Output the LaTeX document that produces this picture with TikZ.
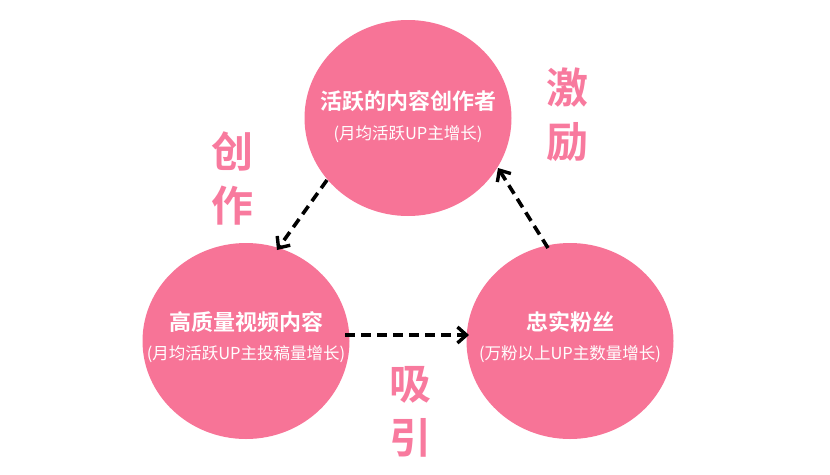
\documentclass[tikz,border=0pt]{standalone}
\usepackage{fontspec}
\setmainfont{Noto Sans CJK SC}
\newfontfamily\cjkbold{Noto Sans CJK SC Bold}
\usetikzlibrary{arrows.meta,shapes.geometric}
\definecolor{rose}{RGB}{247,116,151}
\definecolor{roselabel}{RGB}{248,122,158}
\tikzset{
  x=1pt,y=-1pt,
  bubble/.style={ellipse,fill=rose,minimum width=207pt,minimum height=196pt,inner sep=0pt},
  ttl/.style={text=white,font=\cjkbold\fontsize{22}{25}\selectfont},
  sub/.style={text=white,font=\fontsize{16.5}{20}\selectfont},
  biglab/.style={text=roselabel,font=\cjkbold\fontsize{42}{54}\selectfont,align=center},
  flow/.style={draw=black,line width=3.6pt,dash pattern=on 10pt off 6pt,
    -{Straight Barb[length=9pt,width=16pt,line width=3.4pt]}},
}
\begin{document}
\begin{tikzpicture}
\useasboundingbox (0,0) rectangle (830,474);
\node[bubble] (top) at (408,118) {};
\node[bubble] (left) at (246,341) {};
\node[bubble] (right) at (570,341) {};
\node[ttl] (toptitle) at (408,101) {活跃的内容创作者};
\node[sub] (topsub) at (408,134) {(月均活跃UP主增长)};
\node[ttl] (lefttitle) at (246,322) {高质量视频内容};
\node[sub] (leftsub) at (246,354) {(月均活跃UP主投稿量增长)};
\node[ttl] (righttitle) at (570,322) {忠实粉丝};
\node[sub] (rightsub) at (570,354) {(万粉以上UP主数量增长)};
\node[biglab] (chuang) at (232,178) {创\\作};
\node[biglab] (ji) at (567,115) {激\\励};
\node[biglab] (xi) at (410,412) {吸\\引};
\coordinate (a1s) at (327,180);
\coordinate (a1e) at (277,250);
\coordinate (a2s) at (345,335);
\coordinate (a2e) at (469,335);
\coordinate (a3s) at (548,248);
\coordinate (a3e) at (498,168);
\draw[flow] (a1s) -- (a1e);
\draw[flow] (a2s) -- (a2e);
\draw[flow] (a3s) -- (a3e);
\end{tikzpicture}
\end{document}
